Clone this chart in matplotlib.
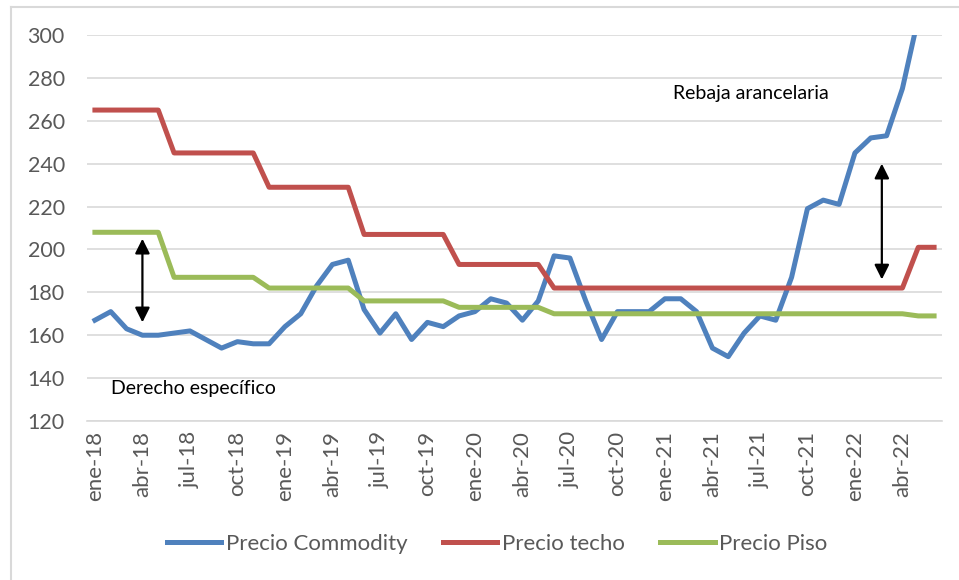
import numpy as np
import matplotlib
matplotlib.use("Agg")
import matplotlib.pyplot as plt
from matplotlib.lines import Line2D

plt.rcParams['font.family'] = ['Lato', 'DejaVu Sans']

# meses ene-18 .. jun-22
meses = ['ene', 'feb', 'mar', 'abr', 'may', 'jun', 'jul', 'ago', 'sep', 'oct', 'nov', 'dic']
fechas = [f"{m}-{a}" for a in ['18', '19', '20', '21', '22'] for m in meses][:54]

precio_commodity = [167, 171, 163, 160, 160, 161, 162, 158, 154, 157, 156, 156,
                    164, 170, 183, 193, 195, 172, 161, 170, 158, 166, 164, 169,
                    171, 177, 175, 167, 176, 197, 196, 176, 158, 171, 171, 171,
                    177, 177, 171, 154, 150, 161, 169, 167, 187, 219, 223, 221,
                    245, 252, 253, 275, 308, np.nan]
precio_techo = [265] * 5 + [245] * 6 + [229] * 6 + [207] * 6 + [193] * 6 + [182] * 23 + [201] * 2
precio_piso = [208] * 5 + [187] * 6 + [182] * 6 + [176] * 6 + [173] * 6 + [170] * 23 + [169] * 2

# flechas (x en indice de mes, y desde, y hasta)
flecha_izq = (3, 166, 205)
flecha_der = (49.7, 186, 240)

fig = plt.figure(figsize=(9.59, 5.80), dpi=100)
ax = fig.add_axes([87 / 959, 1 - 421 / 580, (942 - 87) / 959, (421 - 35) / 580])

x = np.arange(len(fechas))
ax.plot(x, precio_commodity, color='#4F81BD', lw=3.6, label='Precio Commodity')
ax.plot(x, precio_techo, color='#C0504D', lw=3.6, label='Precio techo')
ax.plot(x, precio_piso, color='#9BBB59', lw=3.6, label='Precio Piso')

ax.set_xlim(-0.5, len(fechas) - 0.5)
ax.set_ylim(120, 300)
ax.set_yticks(range(120, 301, 20))
ax.set_xticks(x[::3])
ax.set_xticklabels(fechas[::3], rotation=90)
ax.grid(axis='y', color='#d9d9d9', lw=1.2)
ax.set_axisbelow(True)
for s in ['top', 'right', 'left']:
    ax.spines[s].set_visible(False)
ax.spines['bottom'].set_color('#d9d9d9')
ax.spines['bottom'].set_linewidth(1.2)
ax.tick_params(axis='both', length=0, colors='#595959', labelsize=15.5)
ax.tick_params(axis='x', labelsize=16, pad=7)
ax.tick_params(axis='y', pad=16)

for fx, y0, y1 in [flecha_izq, flecha_der]:
    ax.annotate('', xy=(fx, y1), xytext=(fx, y0),
                arrowprops=dict(arrowstyle='<|-|>', color='black', lw=1.6,
                                mutation_scale=22, shrinkA=0, shrinkB=0))

ax.text(36.5, 272.5, 'Rebaja arancelaria', fontsize=14, va='center', ha='left')
ax.text(1.0, 135.2, 'Derecho específico', fontsize=14, va='center', ha='left')

fig.legend(loc='center', bbox_to_anchor=(497 / 959, 1 - 544 / 580), ncol=3, frameon=False,
           fontsize=16, handlelength=2.45, handletextpad=0.2, columnspacing=1.6,
           labelcolor='#595959')

# borde del grafico
fig.add_artist(Line2D([11 / 959, 11 / 959], [0, 1 - 7 / 580], color='#d9d9d9', lw=1.5))
fig.add_artist(Line2D([11 / 959, 1], [1 - 7 / 580, 1 - 7 / 580], color='#d9d9d9', lw=1.5))

fig.savefig('out.png', dpi=100)
